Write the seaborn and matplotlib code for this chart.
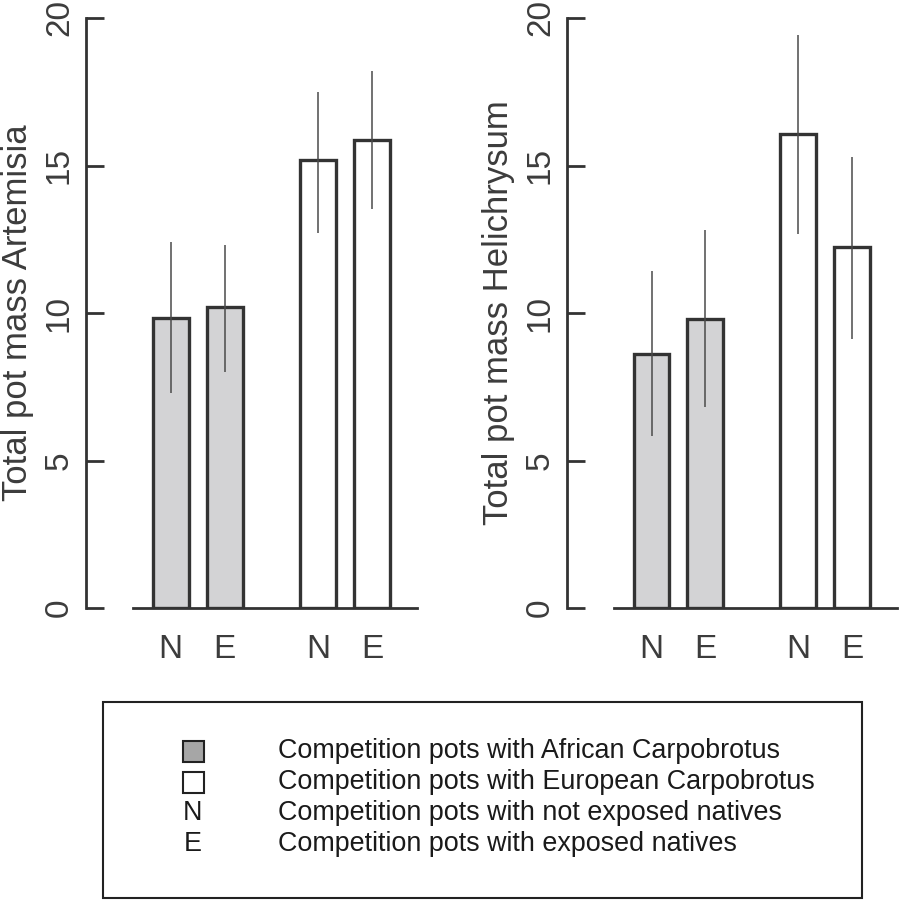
import pandas as pd
import matplotlib
matplotlib.use("Agg")
import matplotlib.pyplot as plt
from matplotlib.patches import Rectangle
import seaborn as sns

# ---- data ----
origin = ["African", "African", "European", "European"]
native = ["N", "E", "N", "E"]

artemisia_mean = [9.83, 10.20, 15.19, 15.86]
artemisia_lo = [7.29, 8.00, 12.71, 13.53]
artemisia_hi = [12.41, 12.30, 17.49, 18.20]

helichrysum_mean = [8.61, 9.80, 16.07, 12.24]
helichrysum_lo = [5.83, 6.81, 12.68, 9.12]
helichrysum_hi = [11.42, 12.81, 19.42, 15.29]

ylabels = ["Total pot mass Artemisia", "Total pot mass Helichrysum"]
yticks = [0, 5, 10, 15, 20]

legend_labels = [
    "Competition pots with African Carpobrotus",
    "Competition pots with European Carpobrotus",
    "Competition pots with not exposed natives",
    "Competition pots with exposed natives",
]

# ---- style ----
sns.set_style("white")
plt.rcParams["font.family"] = ["Liberation Sans", "DejaVu Sans"]
EDGE = "#333333"
GRAY = "#d3d3d5"
TXT = "#3c3c3c"

fig = plt.figure(figsize=(9.04, 9.0), dpi=100)

panels = [
    (artemisia_mean, artemisia_lo, artemisia_hi, [86 / 904, 292 / 900, 331 / 904, 590 / 900]),
    (helichrysum_mean, helichrysum_lo, helichrysum_hi, [567 / 904, 292 / 900, 330 / 904, 590 / 900]),
]

for (mean, lo, hi, rect), ylab in zip(panels, ylabels):
    ax = fig.add_axes(rect)
    df = pd.DataFrame({"origin": origin, "native": native, "mass": mean,
                       "lo": lo, "hi": hi})
    sns.barplot(data=df, x="origin", y="mass", hue="native",
                order=["African", "European"], hue_order=["N", "E"],
                width=0.735, gap=0.333, errorbar=None, legend=False,
                edgecolor=EDGE, linewidth=2.4, ax=ax)

    centers, labels = [], []
    for ci, nat in enumerate(["N", "E"]):
        for xi, org in enumerate(["African", "European"]):
            bar = ax.containers[ci][xi]
            bar.set_facecolor(GRAY if org == "African" else "white")
            cx = bar.get_x() + bar.get_width() / 2
            row = df[(df.origin == org) & (df.native == nat)].iloc[0]
            ax.vlines(cx, row.lo, row.hi, color="#4a4a4a", lw=1.1, zorder=5)
            centers.append(cx)
            labels.append(nat)

    ax.set_xticks(centers, labels)
    ax.set_xlim(-0.76, 1.49)
    ax.set_ylim(0, 20)
    ax.set_yticks(yticks, [str(t) for t in yticks])
    ax.set_xlabel("")
    ax.set_ylabel(ylab, fontsize=25, color=TXT)
    ax.yaxis.set_label_coords(-0.158, 0.5)

    for s in ["top", "right"]:
        ax.spines[s].set_visible(False)
    ax.spines["left"].set_linewidth(2.0)
    ax.spines["left"].set_color(EDGE)
    ax.spines["bottom"].set_linewidth(2.0)
    ax.spines["bottom"].set_color(EDGE)
    ax.spines["bottom"].set_bounds(-0.442, 1.49)

    ax.tick_params(axis="y", left=True, direction="in", length=13, width=2.0, color=EDGE,
                   labelsize=24, labelcolor=TXT, pad=8, labelrotation=90)
    for t in ax.get_yticklabels():
        t.set_va("center")
    ax.tick_params(axis="x", bottom=False, length=0, labelsize=24, labelcolor=TXT, pad=19)

# ---- legend box drawn in pixel coordinates ----
lax = fig.add_axes([0, 0, 1, 1], zorder=-1)
lax.set_xlim(0, 904)
lax.set_ylim(900, 0)
lax.axis("off")
lax.add_patch(Rectangle((103, 702), 759, 196, fill=False, edgecolor="#222222", lw=1.5))
lax.add_patch(Rectangle((183, 741), 21, 21, facecolor="#a6a6a6", edgecolor="#222222", lw=1.5))
lax.add_patch(Rectangle((183, 772), 21, 21, facecolor="white", edgecolor="#222222", lw=1.5))
lax.text(193, 813, "N", ha="center", va="center", fontsize=19.4, color="#1a1a1a")
lax.text(193, 844, "E", ha="center", va="center", fontsize=19.4, color="#1a1a1a")
for i, lab in enumerate(legend_labels):
    lax.text(278, 751 + 31 * i, lab, ha="left", va="center", fontsize=19.4, color="#1a1a1a")

fig.savefig("out.png", dpi=100)
